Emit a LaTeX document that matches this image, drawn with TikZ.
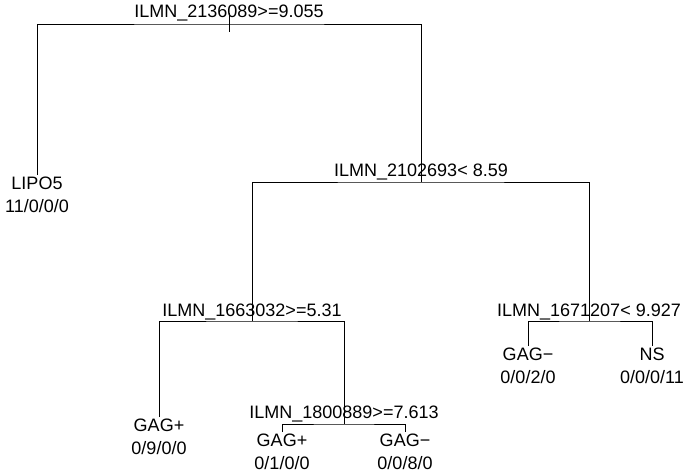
\documentclass[tikz,border=0pt]{standalone}
\usepackage{fontspec}
\setmainfont{Liberation Sans}
\begin{document}
\begin{tikzpicture}[x=1pt, y=-1pt, line width=0.9pt,
    every node/.style={font=\fontsize{18}{20}\selectfont, inner sep=0pt, anchor=base}]
  \useasboundingbox (0,0) rectangle (684,473);
  % splits
  \coordinate (root) at (229,24);  \coordinate (n2) at (421,182);
  \coordinate (n4) at (252,321);   \coordinate (n5) at (589,321);
  \coordinate (n9) at (344,424);
  % leaves
  \coordinate (lipo) at (37,175);  \coordinate (gagA) at (159,417);
  \coordinate (gagB) at (282,432); \coordinate (gagC) at (405,432);
  \coordinate (gagD) at (528,346); \coordinate (ns) at (652,346);
  % branches
  \draw (lipo) |- (root) -| (n2);
  \draw (root) ++(0,-11) -- ++(0,19);
  \draw (n4) |- (n2) -| (n5);
  \draw (gagA) |- (n4) -| (n9);
  \draw (gagB) |- (n9) -| (gagC);
  \draw (gagD) |- (n5) -| (ns);
  % split labels
  \node (root-lab) at ([yshift=6pt]root) {ILMN\_2136089>=9.055};
  \node (n2-lab) at ([yshift=6pt]n2) {ILMN\_2102693< 8.59};
  \node (n4-lab) at ([yshift=5pt]n4) {ILMN\_1663032>=5.31};
  \node (n5-lab) at ([yshift=5pt]n5) {ILMN\_1671207< 9.927};
  \node (n9-lab) at ([yshift=6pt]n9) {ILMN\_1800889>=7.613};
  % leaf labels
  \node (lipo-cl) at ([yshift=-14pt]lipo) {LIPO5};
  \node (lipo-n) at ([yshift=-37pt]lipo) {11/0/0/0};
  \node (gagA-cl) at ([yshift=-14pt]gagA) {GAG+};
  \node (gagA-n) at ([yshift=-37pt]gagA) {0/9/0/0};
  \node (gagB-cl) at ([yshift=-14pt]gagB) {GAG+};
  \node (gagB-n) at ([yshift=-37pt]gagB) {0/1/0/0};
  \node (gagC-cl) at ([yshift=-14pt]gagC) {GAG−};
  \node (gagC-n) at ([yshift=-37pt]gagC) {0/0/8/0};
  \node (gagD-cl) at ([yshift=-14pt]gagD) {GAG−};
  \node (gagD-n) at ([yshift=-37pt]gagD) {0/0/2/0};
  \node (ns-cl) at ([yshift=-14pt]ns) {NS};
  \node (ns-n) at ([yshift=-37pt]ns) {0/0/0/11};
\end{tikzpicture}
\end{document}
